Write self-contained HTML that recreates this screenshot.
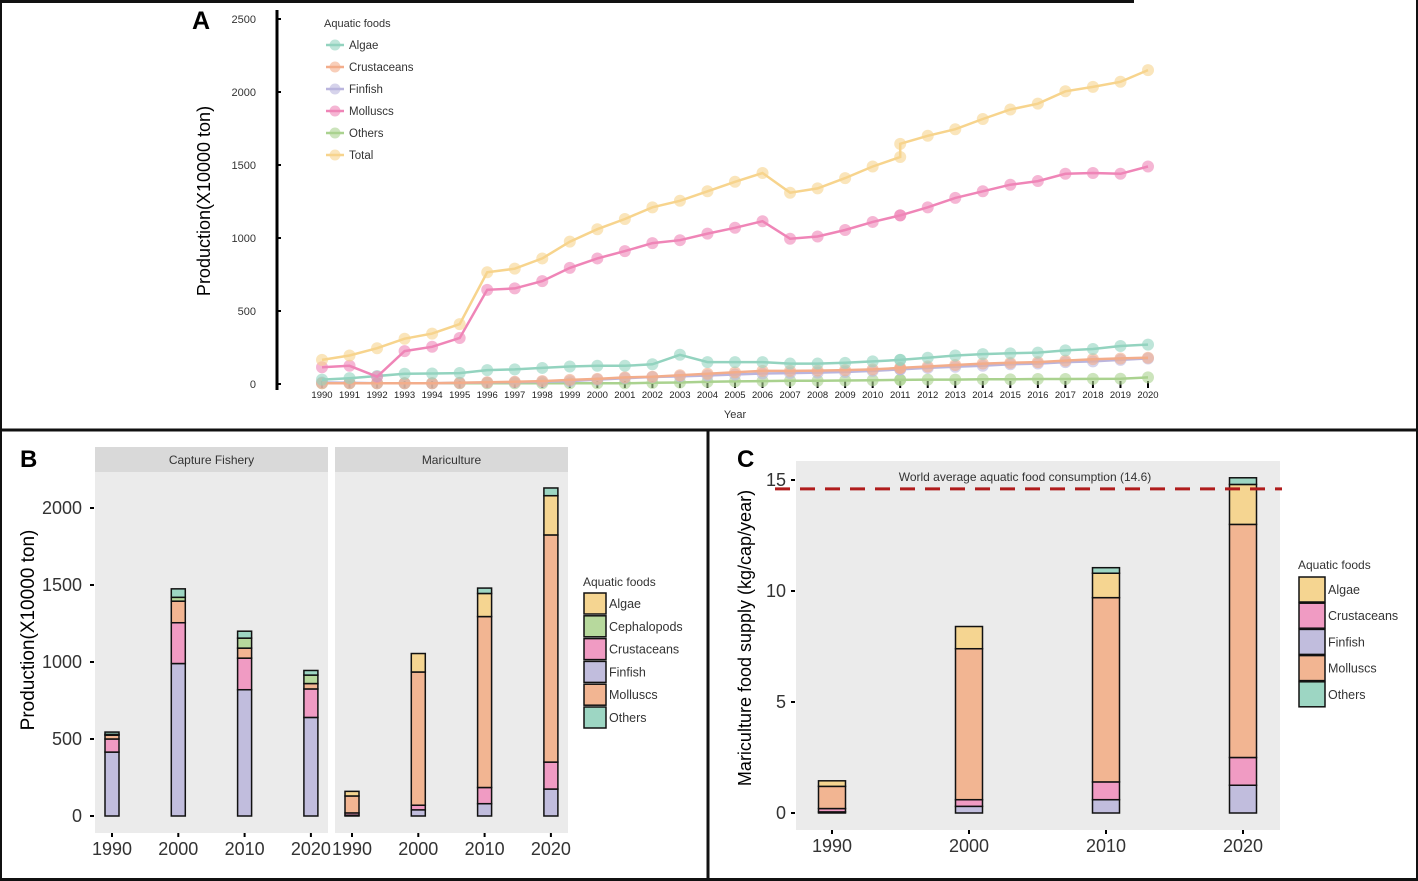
<!DOCTYPE html>
<html><head><meta charset="utf-8"><style>
html,body{margin:0;padding:0;background:#fff;}
svg{display:block;font-family:"Liberation Sans",Arial,sans-serif;}
</style></head><body>
<svg id="fig" width="1418" height="881" viewBox="0 0 1418 881" xmlns="http://www.w3.org/2000/svg">
<rect x="0" y="0" width="1418" height="881" fill="#fff"/>
<g id="A"></g>
<g id="B"></g>
<g id="C"></g>
<g id="frames">
<line x1="0" y1="1.5" x2="1134" y2="1.5" stroke="#111" stroke-width="3"/>
<line x1="1" y1="0" x2="1" y2="881" stroke="#111" stroke-width="2"/>
<line x1="1417" y1="0" x2="1417" y2="881" stroke="#111" stroke-width="2"/>
<line x1="0" y1="430" x2="1418" y2="430" stroke="#111" stroke-width="3"/>
<line x1="708" y1="430" x2="708" y2="881" stroke="#111" stroke-width="3"/>
<line x1="0" y1="879.5" x2="1418" y2="879.5" stroke="#111" stroke-width="3"/>
</g>
</svg>
<script>
// ---------- Panel A data ----------
const aYears = [1990,1991,1992,1993,1994,1995,1996,1997,1998,1999,2000,2001,2002,2003,2004,2005,2006,2007,2008,2009,2010,2011,2011,2012,2013,2014,2015,2016,2017,2018,2019,2020];
const aTickYears = [1990,1991,1992,1993,1994,1995,1996,1997,1998,1999,2000,2001,2002,2003,2004,2005,2006,2007,2008,2009,2010,2011,2012,2013,2014,2015,2016,2017,2018,2019,2020];
const aYTicks = [0,500,1000,1500,2000,2500];
const aSeriesNames = ["Algae","Crustaceans","Finfish","Molluscs","Others","Total"];
const aAlgae = [30,40,55,70,72,75,95,100,110,120,125,125,135,200,150,150,150,140,140,145,155,165,165,180,195,205,210,215,230,240,260,270];
const aCrustaceans = [5,5,5,5,5,8,12,15,20,28,35,45,50,60,70,80,90,90,92,95,100,110,110,120,130,140,145,150,160,170,175,180];
const aFinfish = [10,8,5,5,5,8,10,12,15,20,30,40,48,52,58,65,72,75,78,82,90,100,100,110,118,125,135,140,150,155,165,175];
const aMolluscs = [115,125,50,225,255,315,645,655,705,795,860,910,965,985,1030,1070,1115,995,1010,1055,1110,1155,1155,1210,1275,1320,1365,1390,1440,1445,1440,1490];
const aOthers = [5,5,5,5,5,5,5,5,5,5,5,5,8,10,15,18,20,22,22,24,26,28,28,30,30,32,32,34,34,35,36,45];
const aTotal = [165,195,245,310,345,410,765,790,860,975,1060,1130,1210,1255,1320,1385,1445,1310,1340,1410,1490,1555,1645,1700,1745,1815,1880,1920,2005,2035,2070,2150];

// ---------- Panel B data ----------
const bFacets = ["Capture Fishery","Mariculture"];
const bYears = [1990,2000,2010,2020];
const bYTicks = [0,500,1000,1500,2000];
const bLegend = ["Algae","Cephalopods","Crustaceans","Finfish","Molluscs","Others"];
const bCapFinfish = [415,990,820,640];
const bCapCrustaceans = [85,265,205,185];
const bCapMolluscs = [25,140,65,35];
const bCapCephalopods = [5,25,65,55];
const bCapAlgae = [0,0,0,0];
const bCapOthers = [15,55,45,30];
const bMarFinfish = [5,40,80,175];
const bMarCrustaceans = [15,30,105,175];
const bMarMolluscs = [110,865,1110,1475];
const bMarCephalopods = [0,0,0,0];
const bMarAlgae = [30,120,150,255];
const bMarOthers = [0,0,35,50];

// ---------- Panel C data ----------
const cYears = [1990,2000,2010,2020];
const cYTicks = [0,5,10,15];
const cLegend = ["Algae","Crustaceans","Finfish","Molluscs","Others"];
const cFinfish = [0.05,0.3,0.6,1.25];
const cCrustaceans = [0.15,0.3,0.8,1.25];
const cMolluscs = [1.0,6.8,8.3,10.5];
const cAlgae = [0.25,1.0,1.1,1.8];
const cOthers = [0,0,0.25,0.3];
const cWorldAvg = 14.6;

const NS = "http://www.w3.org/2000/svg";
function mk(tag, attrs, parent, text){
  const e = document.createElementNS(NS, tag);
  for (const k in attrs) e.setAttribute(k, attrs[k]);
  if (text !== undefined) e.textContent = text;
  parent.appendChild(e);
  return e;
}
const lineCol = {Algae:"#93d3bf",Crustaceans:"#f3ad8b",Finfish:"#bab5de",Molluscs:"#ef85b7",Others:"#aad28f",Total:"#f7d48d"};
const barCol = {Algae:"#f5d591",Cephalopods:"#b7d99d",Crustaceans:"#f09bc3",Finfish:"#c1bddd",Molluscs:"#f2b592",Others:"#9dd6c3"};

// ================= Panel A =================
(function(){
  const g = document.getElementById("A");
  const x = yr => 322 + (yr-1990)*(1148-322)/30;
  const y = v => 384 - v*(73/500);
  const lbl = mk("text",{x:192,y:29,"font-size":25,"font-weight":"bold",fill:"#000"},g,"A");
  
  
  const ax = mk("line",{x1:277,y1:10,x2:277,y2:390,stroke:"#000","stroke-width":3},g);
  
  
  aYTicks.forEach(t=>{
    mk("line",{x1:277,y1:y(t),x2:281,y2:y(t),stroke:"#000","stroke-width":2},g);
    const tt = mk("text",{x:256,y:y(t)+4,"font-size":11,fill:"#333","text-anchor":"end"},g,t);
    
    
  });
  const yt = mk("text",{x:0,y:0,"font-size":18,fill:"#000","text-anchor":"middle",transform:"translate(210,201) rotate(-90)"},g,"Production(X10000 ton)");
  
  
  aTickYears.forEach(yr=>{
    mk("line",{x1:x(yr),y1:381,x2:x(yr),y2:388,stroke:"#000","stroke-width":2},g);
    const tt = mk("text",{x:x(yr),y:398,"font-size":9.5,fill:"#222","text-anchor":"middle"},g,yr);
    
    
  });
  const xt = mk("text",{x:735,y:418,"font-size":11,fill:"#333","text-anchor":"middle"},g,"Year");
  
  
  const data = {Algae:aAlgae,Crustaceans:aCrustaceans,Finfish:aFinfish,Molluscs:aMolluscs,Others:aOthers,Total:aTotal};
  const order = ["Others","Finfish","Crustaceans","Algae","Molluscs","Total"];
  order.forEach(name=>{
    const vals = data[name];
    const sg = mk("g",{},g);
    
    
    const pts = vals.map((v,i)=>x(aYears[i]).toFixed(1)+","+y(v).toFixed(1)).join(" ");
    mk("polyline",{points:pts,fill:"none",stroke:lineCol[name],"stroke-width":2.5},sg);
    vals.forEach((v,i)=>{
      const c = mk("circle",{cx:x(aYears[i]),cy:y(v),r:6,fill:lineCol[name],"fill-opacity":0.6},sg);
      
      
    });
  });
  const lg = mk("g",{},g);
  
  
  mk("text",{x:324,y:27,"font-size":11,fill:"#333"},lg,"Aquatic foods");
  aSeriesNames.forEach((n,i)=>{
    const yy = 45 + i*22;
    const e = mk("g",{},lg);
    
    
    mk("line",{x1:326,y1:yy,x2:344,y2:yy,stroke:lineCol[n],"stroke-width":2.5},e);
    mk("circle",{cx:335,cy:yy,r:5.5,fill:lineCol[n],"fill-opacity":0.6},e);
    mk("text",{x:349,y:yy+4,"font-size":11.5,fill:"#333"},e,n);
  });
})();

// ================= Panel B =================
(function(){
  const g = document.getElementById("B");
  const y = v => 816 - v*(77/500);
  const lbl = mk("text",{x:20,y:467,"font-size":24,"font-weight":"bold",fill:"#000"},g,"B");
  
  
  const facetX = [95,335];
  const facetW = 233;
  const stacks = [
    {Finfish:bCapFinfish,Crustaceans:bCapCrustaceans,Molluscs:bCapMolluscs,Cephalopods:bCapCephalopods,Algae:bCapAlgae,Others:bCapOthers},
    {Finfish:bMarFinfish,Crustaceans:bMarCrustaceans,Molluscs:bMarMolluscs,Cephalopods:bMarCephalopods,Algae:bMarAlgae,Others:bMarOthers}
  ];
  const order = ["Finfish","Crustaceans","Molluscs","Cephalopods","Algae","Others"];
  bFacets.forEach((f,fi)=>{
    const fx = facetX[fi];
    const fg = mk("g",{},g);
    
    
    mk("rect",{x:fx,y:472,width:facetW,height:361,fill:"#ebebeb"},fg);
    mk("rect",{x:fx,y:447,width:facetW,height:25,fill:"#d9d9d9"},fg);
    mk("text",{x:fx+facetW/2,y:464,"font-size":12,fill:"#333","text-anchor":"middle"},fg,f);
    const bx = yr => fx + 17 + (yr-1990)/10*66.3;
    bYears.forEach((yr,i)=>{
      let base = 0;
      order.forEach(s=>{
        const v = stacks[fi][s][i];
        if (v<=0) return;
        const r = mk("rect",{x:bx(yr)-7,y:y(base+v),width:14,height:y(base)-y(base+v),fill:barCol[s],stroke:"#111","stroke-width":1.5},fg);
        
        
        base += v;
      });
      mk("line",{x1:bx(yr),y1:833,x2:bx(yr),y2:837,stroke:"#000","stroke-width":2},fg);
      const t = mk("text",{x:bx(yr),y:855,"font-size":18,fill:"#333","text-anchor":"middle"},fg,yr);
      
      
    });
  });
  bYTicks.forEach(t=>{
    mk("line",{x1:90,y1:y(t),x2:94,y2:y(t),stroke:"#000","stroke-width":2},g);
    const tt = mk("text",{x:82,y:y(t)+6,"font-size":18,fill:"#333","text-anchor":"end"},g,t);
    
    
  });
  const yt = mk("text",{x:0,y:0,"font-size":19,fill:"#000","text-anchor":"middle",transform:"translate(34,630) rotate(-90)"},g,"Production(X10000 ton)");
  
  
  const lg = mk("g",{},g);
  
  
  mk("text",{x:583,y:586,"font-size":12,fill:"#333"},lg,"Aquatic foods");
  bLegend.forEach((n,i)=>{
    const yy = 593 + i*22.8;
    const e = mk("g",{},lg);
    
    
    mk("rect",{x:584,y:yy,width:22,height:21,fill:barCol[n],stroke:"#111","stroke-width":1.5},e);
    mk("text",{x:609,y:yy+15,"font-size":12.5,fill:"#333"},e,n);
  });
})();

// ================= Panel C =================
(function(){
  const g = document.getElementById("C");
  const y = v => 813 - v*(333/15);
  const x = yr => 832 + (yr-1990)/10*137;
  const lbl = mk("text",{x:737,y:467,"font-size":24,"font-weight":"bold",fill:"#000"},g,"C");
  
  
  const bg = mk("rect",{x:796,y:461,width:484,height:369,fill:"#ebebeb"},g);
  
  
  const data = {Finfish:cFinfish,Crustaceans:cCrustaceans,Molluscs:cMolluscs,Algae:cAlgae,Others:cOthers};
  const order = ["Finfish","Crustaceans","Molluscs","Algae","Others"];
  cYears.forEach((yr,i)=>{
    let base = 0;
    order.forEach(s=>{
      const v = data[s][i];
      if (v<=0) return;
      const r = mk("rect",{x:x(yr)-13.5,y:y(base+v),width:27,height:y(base)-y(base+v),fill:barCol[s],stroke:"#111","stroke-width":1.5},g);
      
      
      base += v;
    });
    mk("line",{x1:x(yr),y1:830,x2:x(yr),y2:834,stroke:"#000","stroke-width":2},g);
    const t = mk("text",{x:x(yr),y:852,"font-size":18,fill:"#333","text-anchor":"middle"},g,yr);
    
    
  });
  const ref = mk("line",{x1:775,y1:y(cWorldAvg),x2:1282,y2:y(cWorldAvg),stroke:"#b01c1c","stroke-width":3,"stroke-dasharray":"15,10"},g);
  
  
  const rt = mk("text",{x:1025,y:481,"font-size":12,fill:"#333","text-anchor":"middle"},g,"World average aquatic food consumption ("+cWorldAvg+")");
  
  
  cYTicks.forEach(t=>{
    mk("line",{x1:791,y1:y(t),x2:795,y2:y(t),stroke:"#000","stroke-width":2},g);
    const tt = mk("text",{x:786,y:y(t)+6,"font-size":18,fill:"#333","text-anchor":"end"},g,t);
    
    
  });
  const yt = mk("text",{x:0,y:0,"font-size":18,fill:"#000","text-anchor":"middle",transform:"translate(751,638) rotate(-90)"},g,"Mariculture food supply (kg/cap/year)");
  
  
  const lg = mk("g",{},g);
  
  
  mk("text",{x:1298,y:569,"font-size":12,fill:"#333"},lg,"Aquatic foods");
  cLegend.forEach((n,i)=>{
    const yy = 577 + i*26.2;
    const e = mk("g",{},lg);
    
    
    mk("rect",{x:1299,y:yy,width:26,height:25,fill:barCol[n],stroke:"#111","stroke-width":1.5},e);
    mk("text",{x:1328,y:yy+17,"font-size":12.5,fill:"#333"},e,n);
  });
})();
</script>
</body></html>
